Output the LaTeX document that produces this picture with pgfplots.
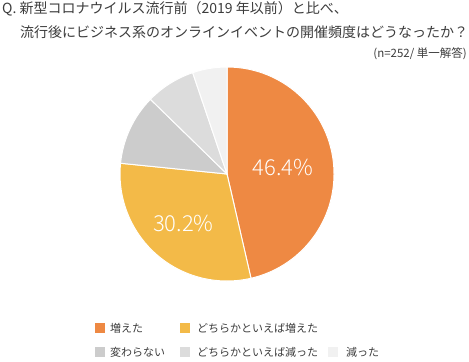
\documentclass[border=0pt]{standalone}
\usepackage{pgfplots}
\pgfplotsset{compat=1.18}
\usepackage{pgfplotstable}
\usepackage{fontspec}
\setmainfont{Noto Sans CJK JP}
\newfontfamily\lightfont{Noto Sans CJK JP Light}
\definecolor{cA}{HTML}{EE8943}
\definecolor{cB}{HTML}{F3BA48}
\definecolor{cC}{HTML}{CCCCCC}
\definecolor{cD}{HTML}{DCDCDC}
\definecolor{cE}{HTML}{F1F1F1}
\definecolor{txt}{HTML}{3C3C3C}
\pgfplotstableread{
share
46.4
30.2
10.7
7.5
5.2
}\piedata
\begin{document}
\begin{tikzpicture}[x=1bp,y=1bp]
\path[use as bounding box] (0,0) rectangle (469,361);
\pgfplotstablegetelem{0}{share}\of\piedata \pgfmathsetmacro{\aA}{\pgfplotsretval*3.6}
\pgfplotstablegetelem{1}{share}\of\piedata \pgfmathsetmacro{\aB}{\aA+\pgfplotsretval*3.6}
\pgfplotstablegetelem{2}{share}\of\piedata \pgfmathsetmacro{\aC}{\aB+\pgfplotsretval*3.6}
\pgfplotstablegetelem{3}{share}\of\piedata \pgfmathsetmacro{\aD}{\aC+\pgfplotsretval*3.6}
\pgfmathsetmacro{\mA}{90-\aA/2}
\pgfmathsetmacro{\mB}{90-(\aA+\aB)/2}
\begin{axis}[at={(227bp,187bp)}, anchor=origin, hide axis, scale only axis,
  width=214bp, height=214bp, xmin=-1, xmax=1, ymin=-1, ymax=1]
\fill[cA, draw=white, line width=1bp] (axis cs:0,0) -- ++(90:107bp) arc[start angle=90, end angle=90-\aA, radius=107bp] -- cycle;
\fill[cB, draw=white, line width=1bp] (axis cs:0,0) -- ++(90-\aA:107bp) arc[start angle=90-\aA, end angle=90-\aB, radius=107bp] -- cycle;
\fill[cC, draw=white, line width=1bp] (axis cs:0,0) -- ++(90-\aB:107bp) arc[start angle=90-\aB, end angle=90-\aC, radius=107bp] -- cycle;
\fill[cD, draw=white, line width=1bp] (axis cs:0,0) -- ++(90-\aC:107bp) arc[start angle=90-\aC, end angle=90-\aD, radius=107bp] -- cycle;
\fill[cE, draw=white, line width=1bp] (axis cs:0,0) -- ++(90-\aD:107bp) arc[start angle=90-\aD, end angle=-270, radius=107bp] -- cycle;
\path (axis cs:0,0) ++(\mA:56.5bp) node[white, font=\lightfont\fontsize{22bp}{24bp}\selectfont] {46.4\%};
\path (axis cs:0,0) ++(\mB:66bp) node[white, font=\lightfont\fontsize{22bp}{24bp}\selectfont] {30.2\%};
\end{axis}
% title
\node[anchor=base west, txt, font=\fontsize{14bp}{15bp}\selectfont, inner sep=0] at (2,348) {Q. 新型コロナウイルス流行前（2019 年以前）と比べ、};
\node[anchor=base west, txt, font=\fontsize{14bp}{15bp}\selectfont, inner sep=0] at (20,324) {流行後にビジネス系のオンラインイベントの開催頻度はどうなったか？};
\node[anchor=base east, txt, font=\fontsize{11.5bp}{12bp}\selectfont, inner sep=0] at (467,304) {(n=252/ 単一解答)};
% legend
\begin{scope}[font=\fontsize{11bp}{12bp}\selectfont]
\fill[cA] (95,28) rectangle (105,38);
\node[anchor=base west, txt, inner sep=0] at (110,29) {増えた};
\fill[cB] (180,28) rectangle (190,38);
\node[anchor=base west, txt, inner sep=0] at (197,29) {どちらかといえば増えた};
\fill[cC] (95,4) rectangle (105,14);
\node[anchor=base west, txt, inner sep=0] at (110,5) {変わらない};
\fill[cD] (180,4) rectangle (190,14);
\node[anchor=base west, txt, inner sep=0] at (197,5) {どちらかといえば減った};
\fill[cE] (328,4) rectangle (338,14);
\node[anchor=base west, txt, inner sep=0] at (346,5) {減った};
\end{scope}
\end{tikzpicture}
\end{document}
